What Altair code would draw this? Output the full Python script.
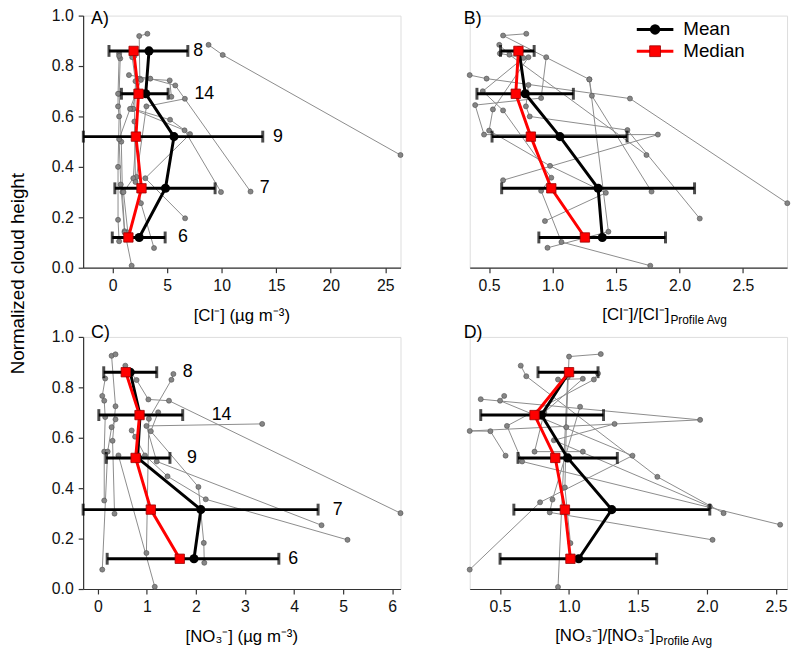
import altair as alt
import pandas as pd

FONT = "Liberation Sans"

# ---------------- data ----------------
levels = [0.86, 0.69, 0.52, 0.315, 0.12]
counts = ["8", "14", "9", "7", "6"]

# Panel A: [Cl-] (ug m-3)
mean_a = [3.34, 3.04, 5.63, 4.85, 2.44]
median_a = [1.93, 2.38, 2.14, 2.65, 1.45]
lo_a = [-0.33, 0.81, -2.68, 0.21, -0.03]
hi_a = [6.90, 5.09, 13.77, 9.40, 4.82]
count_x_a = [7.4, 7.5, 14.7, 13.5, 6.0]
prof_a = [
    [(26.4, 0.447), (10.1, 0.844), (8.8, 0.884)],
    [(5.39, 0.678), (5.24, 0.743), (2.5, 0.75), (2.44, 0.919), (3.19, 0.928)],
    [(1.75, 0.008), (1.1, 0.145), (0.9, 0.30), (0.8, 0.50), (0.6, 0.69), (0.7, 0.83), (0.6, 0.85)],
    [(0.6, 0.105), (0.5, 0.19), (0.5, 0.40), (0.6, 0.60), (0.5, 0.64), (0.5, 0.69), (0.6, 0.84)],
    [(12.65, 0.302), (5.75, 0.723), (3.46, 0.75), (1.5, 0.764)],
    [(9.94, 0.30), (6.6, 0.545), (1.8, 0.63), (2.2, 0.70), (2.0, 0.84)],
    [(3.8, 0.078), (2.6, 0.256), (2.2, 0.36), (3.1, 0.64), (6.63, 0.67)],
    [(6.65, 0.196), (3.0, 0.355), (7.1, 0.53), (5.27, 0.587), (1.9, 0.63)],
    [(1.4, 0.14), (1.0, 0.30), (1.9, 0.355), (2.4, 0.69)],
    [(1.1, 0.14), (0.75, 0.33), (0.6, 0.51), (1.6, 0.63), (2.6, 0.745)],
    [(2.1, 0.34), (2.0, 0.58), (2.1, 0.74), (1.8, 0.835)],
]

# Panel B: [Cl-]/[Cl-]Profile Avg
mean_b = [0.736, 0.785, 1.058, 1.359, 1.392]
median_b = [0.731, 0.71, 0.829, 0.99, 1.255]
lo_b = [0.59, 0.404, 0.523, 0.599, 0.892]
hi_b = [0.855, 1.164, 1.587, 2.119, 1.89]
prof_b = [
    [(1.74, 0.447), (0.66, 0.845), (0.58, 0.884)],
    [(1.78, 0.302), (1.31, 0.682), (1.29, 0.747), (0.61, 0.921), (0.793, 0.928)],
    [(1.77, 0.008), (1.07, 0.102), (0.91, 0.305), (0.99, 0.357), (0.61, 0.624), (0.45, 0.70), (0.77, 0.832), (0.585, 0.85)],
    [(0.94, 0.185), (1.42, 0.297), (0.98, 0.404), (0.5, 0.544), (0.53, 0.628), (0.81, 0.835)],
    [(2.85, 0.256), (1.61, 0.671), (0.48, 0.75), (0.347, 0.764)],
    [(0.61, 0.347), (1.83, 0.528), (0.46, 0.528), (0.39, 0.645), (0.91, 0.673), (0.95, 0.835)],
    [(2.16, 0.195), (1.59, 0.546), (0.82, 0.60), (0.79, 0.64), (0.81, 0.725)],
    [(0.96, 0.079), (1.44, 0.143), (1.29, 0.747)],
]

# Panel C: [NO3-] (ug m-3)
mean_c = [0.66, 0.86, 0.81, 2.10, 1.96]
median_c = [0.57, 0.85, 0.77, 1.08, 1.67]
lo_c = [0.12, 0.02, 0.17, -0.30, 0.19]
hi_c = [1.20, 1.73, 1.47, 4.49, 3.69]
count_x_c = [1.73, 2.32, 1.82, 4.79, 3.88]
prof_c = [
    [(0.34, 0.299), (0.3, 0.588), (0.36, 0.725), (0.28, 0.925), (0.36, 0.931)],
    [(6.17, 0.301), (1.45, 0.747), (1.03, 0.752), (0.79, 0.829), (0.56, 0.886)],
    [(0.13, 0.351), (0.13, 0.545), (0.15, 0.682), (0.13, 0.747), (0.09, 0.766), (0.15, 0.835)],
    [(0.99, 0.143), (1.04, 0.675), (1.5, 0.83), (1.54, 0.853)],
    [(0.09, 0.077), (0.2, 0.545), (0.28, 0.642), (0.36, 0.673)],
    [(2.17, 0.104), (2.16, 0.183), (2.05, 0.405), (1.08, 0.626), (1.23, 0.701)],
    [(4.56, 0.253), (1.2, 0.506), (0.99, 0.647), (3.35, 0.655)],
    [(5.09, 0.195), (2.2, 0.356), (1.42, 0.447), (0.96, 0.53), (0.76, 0.604), (0.69, 0.629)],
    [(1.16, 0.009), (0.42, 0.53)],
]

# Panel D: [NO3-]/[NO3-]Profile Avg
mean_d = [1.0, 0.80, 0.99, 1.31, 1.07]
median_d = [1.0, 0.75, 0.90, 0.97, 1.01]
lo_d = [0.775, 0.36, 0.63, 0.60, 0.50]
hi_d = [1.21, 1.25, 1.35, 2.02, 1.635]
prof_d = [
    [(1.01, 0.182), (0.97, 0.403), (0.98, 0.642), (1.0, 0.922), (1.23, 0.932)],
    [(2.12, 0.301), (1.64, 0.445), (0.69, 0.844), (0.65, 0.886)],
    [(2.53, 0.255), (0.66, 0.506), (0.55, 0.647), (1.18, 0.831), (1.21, 0.855)],
    [(1.1, 0.545), (0.75, 0.545), (0.82, 0.70), (1.1, 0.834), (0.92, 0.831)],
    [(0.28, 0.077), (0.79, 0.344), (1.46, 0.529), (0.5, 0.747), (0.53, 0.766)],
    [(2.02, 0.327), (0.89, 0.59), (1.33, 0.655)],
    [(2.04, 0.195), (0.86, 0.304), (0.88, 0.355), (1.08, 0.723)],
    [(0.54, 0.529), (0.43, 0.626), (0.28, 0.627), (1.95, 0.671), (0.36, 0.753)],
    [(0.92, 0.008), (0.99, 0.84)],
]

y_ticks = [0.0, 0.2, 0.4, 0.6, 0.8, 1.0]

W, H = 321, 255
ONE = pd.DataFrame({"k": [0]})


def prof_df(profs):
    rows = []
    for p, pts in enumerate(profs):
        for i, (x, y) in enumerate(pts):
            rows.append({"pid": p, "i": i, "x": x, "y": y})
    return pd.DataFrame(rows)


def label(text, x, y, size=18, align="left", baseline="alphabetic", angle=0):
    mk = dict(align=align, baseline=baseline, fontSize=size, font=FONT, color="black")
    if angle:
        mk["angle"] = angle
    return alt.Chart(ONE).mark_text(**mk).encode(
        x=alt.value(x), y=alt.value(y), text=alt.value(text))


def panel(profs, mean, med, lo, hi, xdom, xticks, xfmt, letter, letter_y,
          count_x, show_y, titles, legend=False, width=W):
    xs = alt.Scale(domain=xdom, nice=False, zero=False)
    ys = alt.Scale(domain=[0, 1], nice=False, zero=False)
    axis_style = dict(domainColor="#333", tickColor="#333", domainWidth=1.2,
                      tickWidth=1.2, tickSize=5, labelFontSize=16, labelFont=FONT,
                      labelColor="#111", grid=False, labelPadding=5)
    xaxis = alt.Axis(values=xticks, format=xfmt, **axis_style)
    yaxis = alt.Axis(values=y_ticks, format=".1f", **axis_style) if show_y else None

    def X(f):
        return alt.X(f, type="quantitative", scale=xs, axis=xaxis, title=None)

    def Y(f):
        return alt.Y(f, type="quantitative", scale=ys, axis=yaxis, title=None)

    pdf = prof_df(profs)
    sdf = pd.DataFrame({"level": levels, "mean": mean, "median": med,
                        "lo": lo, "hi": hi, "n": counts})

    layers = []
    pb = alt.Chart(pdf)
    layers.append(pb.mark_line(color="#8c8c8c", strokeWidth=1).encode(
        x=X("x"), y=Y("y"), detail="pid:N", order="i:Q"))
    layers.append(pb.mark_circle(size=26, fill="#858585", stroke="#505050",
                                 strokeWidth=0.6, opacity=1).encode(x=X("x"), y=Y("y")))
    sb = alt.Chart(sdf)
    layers.append(sb.mark_rule(color="black", strokeWidth=3).encode(
        x=X("lo"), x2="hi", y=Y("level")))
    for f in ("lo", "hi"):
        layers.append(sb.mark_tick(color="black", thickness=3, size=12,
                                   orient="vertical").encode(x=X(f), y=Y("level")))
    layers.append(sb.mark_line(color="black", strokeWidth=3).encode(
        x=X("mean"), y=Y("level"), order="level:Q"))
    layers.append(sb.mark_circle(size=85, color="black", opacity=1).encode(
        x=X("mean"), y=Y("level")))
    layers.append(sb.mark_line(color="#ff0000", strokeWidth=3).encode(
        x=X("median"), y=Y("level"), order="level:Q"))
    layers.append(sb.mark_square(size=90, fill="#ff0000", stroke="#990000",
                                 strokeWidth=0.8, opacity=1).encode(
        x=X("median"), y=Y("level")))
    if count_x is not None:
        cdf = pd.DataFrame({"level": levels, "cx": count_x, "n": counts})
        layers.append(alt.Chart(cdf).mark_text(
            align="left", baseline="middle", fontSize=18, font=FONT, color="black"
        ).encode(x=X("cx"), y=Y("level"), text="n:N"))

    # panel letter
    layers.append(label(letter, 8 if show_y else -6, letter_y))

    # x title
    if len(titles) == 1:
        layers.append(label(titles[0], width / 2, H + 54, size=17, align="center"))
    else:
        main, sub, dx = titles
        layers.append(label(main, dx, H + 53, size=17, align="right"))
        layers.append(label(sub, dx + 1, H + 57, size=12, align="left"))

    if show_y and letter == "A)":
        layers.append(label("Normalized cloud height", -66, 261, size=19,
                            align="center", baseline="middle", angle=270))

    if legend:
        for name, yy, col in (("Mean", 14, "black"), ("Median", 36, "#ff0000")):
            layers.append(alt.Chart(ONE).mark_rule(color=col, strokeWidth=3).encode(
                x=alt.value(169), x2=alt.value(206), y=alt.value(yy)))
            if name == "Mean":
                layers.append(alt.Chart(ONE).mark_circle(size=110, color="black", opacity=1).encode(
                    x=alt.value(187.5), y=alt.value(yy)))
            else:
                layers.append(alt.Chart(ONE).mark_square(size=120, fill="#ff0000", stroke="#990000",
                                                         strokeWidth=0.8, opacity=1).encode(
                    x=alt.value(187.5), y=alt.value(yy)))
            layers.append(label(name, 216, yy, size=19, baseline="middle"))

    return alt.layer(*layers).properties(width=width, height=H)


pA = panel(prof_a, mean_a, median_a, lo_a, hi_a, [-2.7, 26.4], [0, 5, 10, 15, 20, 25], "d",
           "A)", 8, count_x_a, True, ["[Cl\u207b] (\u00b5g m\u207b\u00b3)"])
pB = panel(prof_b, mean_b, median_b, lo_b, hi_b, [0.347, 2.848], [0.5, 1.0, 1.5, 2.0, 2.5], ".1f",
           "B)", 8, None, False, ["[Cl\u207b]/[Cl\u207b]", "Profile Avg", 202], legend=True)
pC = panel(prof_c, mean_c, median_c, lo_c, hi_c, [-0.3, 6.17], [0, 1, 2, 3, 4, 5, 6], "d",
           "C)", 1, count_x_c, True, ["[NO\u2083\u207b] (\u00b5g m\u207b\u00b3)"])
pD = panel(prof_d, mean_d, median_d, lo_d, hi_d, [0.28, 2.58], [0.5, 1.0, 1.5, 2.0, 2.5], ".1f",
           "D)", 1, None, False, ["[NO\u2083\u207b]/[NO\u2083\u207b]", "Profile Avg", 187])

chart = alt.concat(pA, pB, pC, pD, columns=2, spacing=70, bounds="flush").properties(
    padding={"left": 0, "top": -5, "right": 0, "bottom": 0}
).configure_view(stroke=None).configure(background="white")

chart.save("out.html", embed_options={"renderer": "svg", "actions": False})
